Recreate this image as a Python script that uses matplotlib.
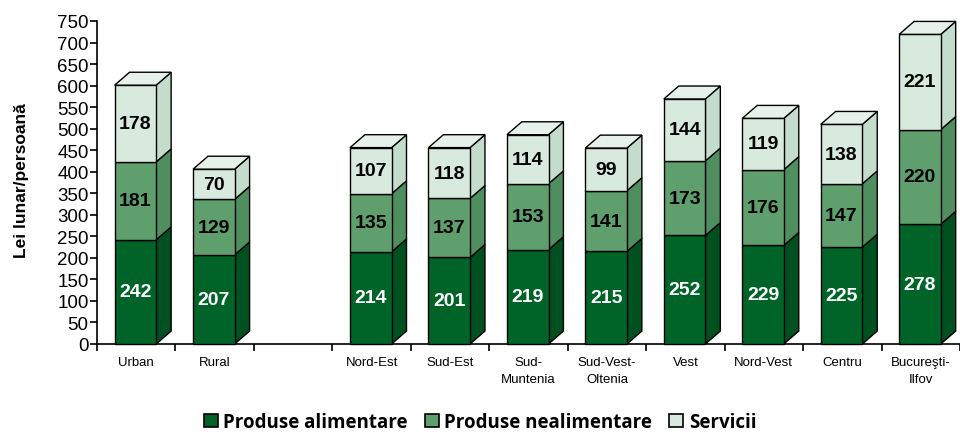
import matplotlib
matplotlib.use("Agg")
import matplotlib.pyplot as plt
from matplotlib.patches import Polygon, Rectangle

categories = ["Urban", "Rural", "", "Nord-Est", "Sud-Est", "Sud-\nMuntenia",
              "Sud-Vest-\nOltenia", "Vest", "Nord-Vest", "Centru", "Bucureşti-\nIlfov"]
alimentare = [242, 207, None, 214, 201, 219, 215, 252, 229, 225, 278]
nealimentare = [181, 129, None, 135, 137, 153, 141, 173, 176, 147, 220]
servicii = [178, 70, None, 107, 118, 114, 99, 144, 119, 138, 221]
series_names = ["Produse alimentare", "Produse nealimentare", "Servicii"]
yticks = list(range(0, 751, 50))

front_cols = ["#006428", "#5f9f6e", "#d8eadd"]
side_cols = ["#005020", "#4f8e5e", "#c4dccb"]
top_cols = ["#1a7a3a", "#78b386", "#e6f2e9"]
text_cols = ["white", "black", "black"]

fig = plt.figure(figsize=(9.6, 4.39), dpi=100)
W, H = 960, 439
x0, x1 = 97, 960
y0, y1 = 345, 22
slot = 79.6
ax = fig.add_axes([x0 / W, (H - y0) / H, (x1 - x0) / W, (y0 - y1) / H])
ax.set_xlim(0, (x1 - x0) / slot)
ax.set_ylim(0, 750)

bw = 0.53
dx = 0.19
dy = 30
for i, cat in enumerate(categories):
    vals = [alimentare[i], nealimentare[i], servicii[i]]
    if vals[0] is None:
        continue
    xc = i + 0.49
    xl = xc - bw / 2
    base = 0
    for k, v in enumerate(vals):
        top = base + v
        ax.add_patch(Rectangle((xl, base), bw, v, facecolor=front_cols[k],
                               edgecolor="black", lw=1.0, zorder=3, clip_on=False))
        ax.add_patch(Polygon([(xl + bw, base), (xl + bw + dx, base + dy),
                              (xl + bw + dx, top + dy), (xl + bw, top)],
                             closed=True, facecolor=side_cols[k], edgecolor="black",
                             lw=1.0, zorder=2, clip_on=False))
        ax.text(xc, base + v / 2, str(v), ha="center", va="center",
                fontsize=14, fontweight="bold", color=text_cols[k],
                family="Liberation Sans", zorder=5)
        base = top
    ax.add_patch(Polygon([(xl, base), (xl + dx, base + dy), (xl + bw + dx, base + dy),
                          (xl + bw, base)], closed=True, facecolor=top_cols[2],
                         edgecolor="black", lw=1.0, zorder=4, clip_on=False))

for s in ["top", "right"]:
    ax.spines[s].set_visible(False)
ax.spines["left"].set_linewidth(1.2)
ax.spines["bottom"].set_linewidth(1.2)
ax.spines["bottom"].set_bounds(0, len(categories))

ax.set_yticks(yticks)
ax.set_yticklabels([str(t) for t in yticks], family="Liberation Sans", fontsize=13.5)
ax.tick_params(axis="y", direction="out", length=5, width=1.2, pad=1)

ax.set_xticks(range(0, len(categories) + 1))
ax.set_xticklabels([])
ax.set_xticks([i + 0.5 for i in range(len(categories))], minor=True)
ax.set_xticklabels(categories, minor=True, family="Liberation Sans", fontsize=9.5,
                   linespacing=1.45)
ax.tick_params(axis="x", which="major", direction="out", length=5, width=1.2)
ax.tick_params(axis="x", which="minor", length=0, pad=9)

ax.set_ylabel("Lei lunar/persoană", family="Liberation Sans", fontsize=12.5,
              fontweight="bold")
ax.yaxis.set_label_coords(-0.079, 0.51)

handles = [Rectangle((0, 0), 1, 1, facecolor=front_cols[k], edgecolor="black", lw=1.2)
           for k in range(3)]
fig.legend(handles, series_names, loc="lower center", bbox_to_anchor=(0.5, -0.025),
           ncol=3, frameon=False, handlelength=0.75, handleheight=0.75,
           handletextpad=0.3, columnspacing=0.9,
           prop={"family": "Open Sans", "weight": "bold", "size": 13.5})

fig.savefig("out.png", dpi=100)
